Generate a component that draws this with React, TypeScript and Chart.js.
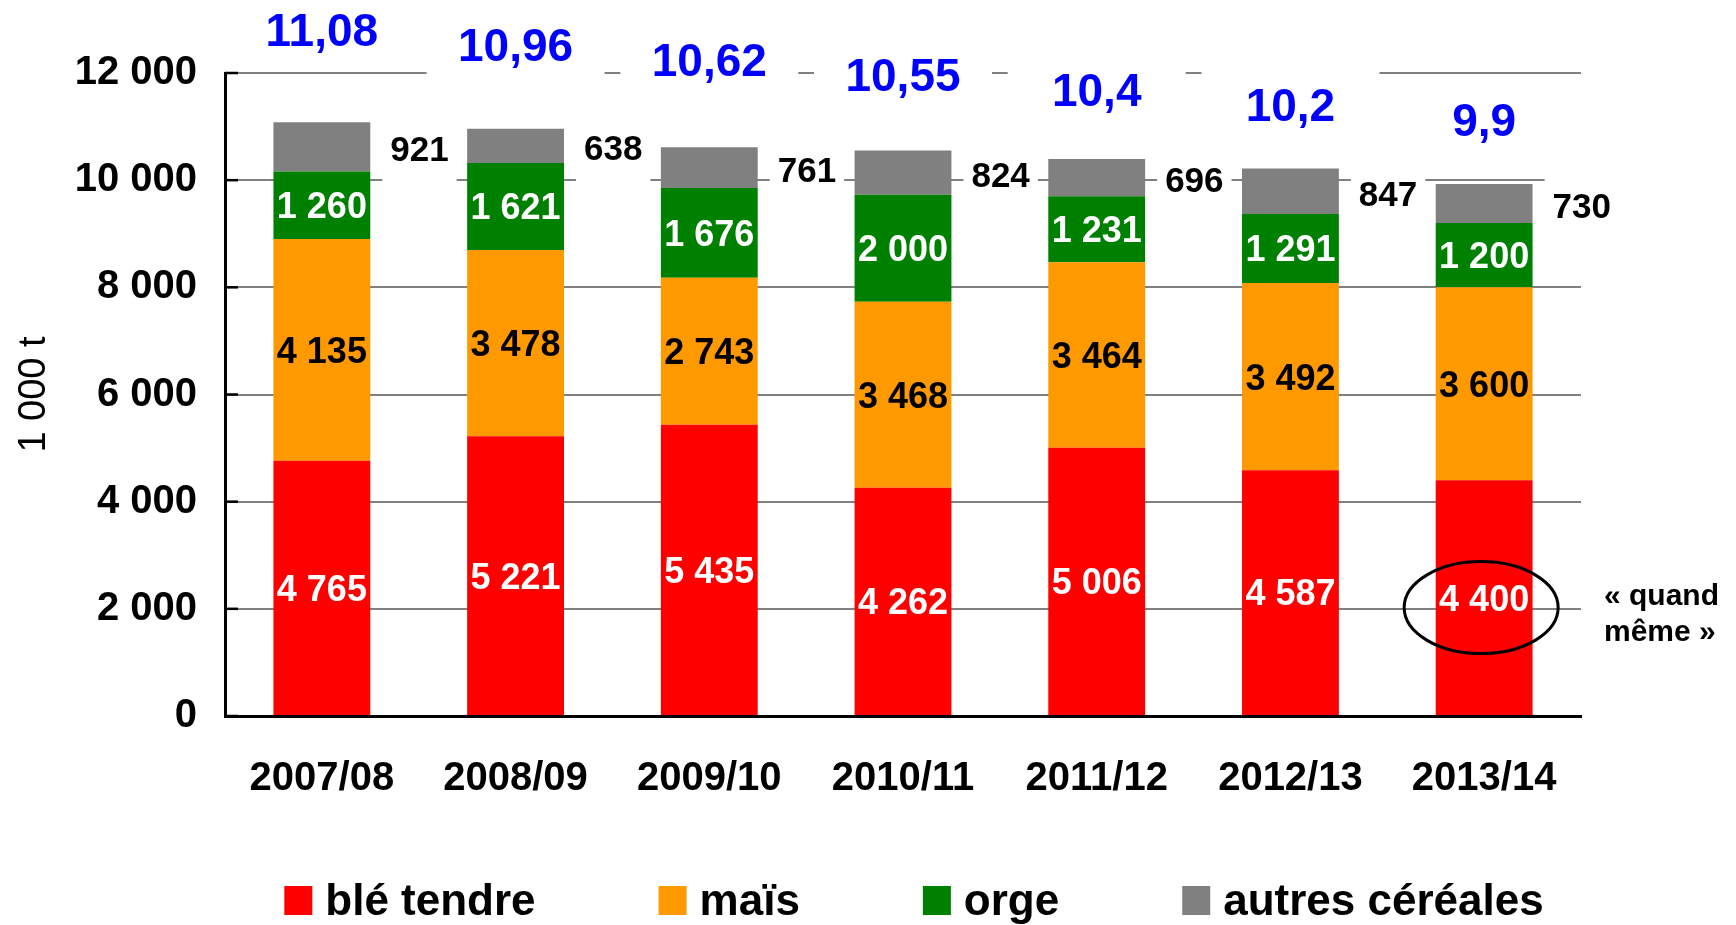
import { useEffect, useRef } from "react";
import { Chart, registerables } from "chart.js";

Chart.register(...registerables);

// ---------- data ----------
const categories = ["2007/08", "2008/09", "2009/10", "2010/11", "2011/12", "2012/13", "2013/14"];
const bleTendre = [4765, 5221, 5435, 4262, 5006, 4587, 4400];
const mais = [4135, 3478, 2743, 3468, 3464, 3492, 3600];
const orge = [1260, 1621, 1676, 2000, 1231, 1291, 1200];
const autres = [921, 638, 761, 824, 696, 847, 730];
const totalLabels = ["11,08", "10,96", "10,62", "10,55", "10,4", "10,2", "9,9"];
const seriesNames = ["blé tendre", "maïs", "orge", "autres céréales"];
const seriesColors = ["#FF0000", "#FF9900", "#008000", "#808080"];
const insideLabelColors = ["#FFFFFF", "#000000", "#FFFFFF"];
const yMin = 0;
const yMax = 12000;
const yStep = 2000;
const yTitle = "1 000 t";
const highlightIndex = 6;
const noteLines = ["« quand", "même »"];

const FONT = "'Liberation Sans', Arial, Helvetica, sans-serif";
Chart.defaults.font.family = FONT;

const fmt = (v: number) => String(v).replace(/\B(?=(\d{3})+(?!\d))/g, " ");

const overlayPlugin = {
  id: "overlay",
  beforeDatasetsDraw(chart: any) {
    const ctx = chart.ctx;
    const y = chart.scales.y;
    const left = chart.chartArea.left;
    ctx.save();
    ctx.strokeStyle = "#000";
    ctx.lineWidth = 2.5;
    y.ticks.forEach((t: any) => {
      const py = y.getPixelForValue(t.value);
      ctx.beginPath();
      ctx.moveTo(left, py);
      ctx.lineTo(left + 13, py);
      ctx.stroke();
    });
    ctx.restore();
  },
  afterDatasetsDraw(chart: any) {
    const ctx = chart.ctx;
    ctx.save();
    // labels inside segments
    ctx.font = `bold 36px ${FONT}`;
    ctx.textAlign = "center";
    ctx.textBaseline = "alphabetic";
    for (let d = 0; d < 3; d++) {
      const meta = chart.getDatasetMeta(d);
      ctx.fillStyle = insideLabelColors[d];
      meta.data.forEach((el: any, i: number) => {
        const cy = (el.y + el.base) / 2;
        ctx.fillText(fmt(chart.data.datasets[d].data[i] as number), el.x, cy + (36 * 0.716) / 2);
      });
    }
    // "autres" labels to the right of bars
    const metaA = chart.getDatasetMeta(3);
    ctx.font = `bold 35px ${FONT}`;
    ctx.textAlign = "left";
    const capA = 35 * 0.716;
    metaA.data.forEach((el: any, i: number) => {
      const text = fmt(autres[i]);
      const w = ctx.measureText(text).width;
      const x = el.x + el.width / 2 + 20;
      const cy = (el.y + el.base) / 2 + 2;
      ctx.fillStyle = "#fff";
      ctx.fillRect(x - 8, cy - capA / 2 - 21, w + 16, capA + 42);
      ctx.fillStyle = "#000";
      ctx.fillText(text, x, cy + capA / 2);
    });
    // totals (Mt) in blue, each in a fixed-width white text box
    ctx.font = `bold 46px ${FONT}`;
    ctx.textAlign = "center";
    const capT = 46 * 0.716;
    const boxW = 178;
    metaA.data.forEach((el: any, i: number) => {
      const text = totalLabels[i];
      const cy = chart.chartArea.top - 43 + 15 * i;
      ctx.fillStyle = "#fff";
      ctx.fillRect(el.x - boxW / 2, cy - capT / 2 - 18, boxW, capT + 36);
      ctx.fillStyle = "#0000FF";
      ctx.fillText(text, el.x, cy + capT / 2);
    });
    // ellipse around highlighted value
    const hl = chart.getDatasetMeta(0).data[highlightIndex];
    const ecy = (hl.y + hl.base) / 2 + 10;
    ctx.beginPath();
    ctx.ellipse(hl.x - 3, ecy, 77, 46, 0, 0, Math.PI * 2);
    ctx.lineWidth = 3;
    ctx.strokeStyle = "#000";
    ctx.stroke();
    // note
    ctx.font = `bold 30px ${FONT}`;
    ctx.textAlign = "left";
    ctx.fillStyle = "#000";
    ctx.fillText(noteLines[0], chart.chartArea.right + 23, ecy - 3);
    ctx.fillText(noteLines[1], chart.chartArea.right + 23, ecy + 33);
    ctx.restore();
  },
  afterDraw(chart: any) {
    // legend
    const ctx = chart.ctx;
    ctx.save();
    ctx.font = `bold 44px ${FONT}`;
    ctx.textAlign = "left";
    ctx.textBaseline = "alphabetic";
    const boxW = 28, boxH = 29, gapBT = 13, gapItems = 123;
    const items = chart.data.datasets.map((ds: any) => ({
      text: ds.label as string,
      color: ds.backgroundColor as string,
      w: ctx.measureText(ds.label).width,
    }));
    const total = items.reduce((s: number, it: any) => s + boxW + gapBT + it.w, 0) + gapItems * (items.length - 1);
    let x = 914 - total / 2;
    const baseline = 915;
    items.forEach((it: any) => {
      ctx.fillStyle = it.color;
      ctx.fillRect(x, baseline - boxH, boxW, boxH);
      ctx.fillStyle = "#000";
      ctx.fillText(it.text, x + boxW + gapBT, baseline);
      x += boxW + gapBT + it.w + gapItems;
    });
    ctx.restore();
  },
};

export default function App() {
  const ref = useRef<HTMLCanvasElement>(null);
  useEffect(() => {
    const seriesData = [bleTendre, mais, orge, autres];
    const chart = new Chart(ref.current!, {
      type: "bar",
      data: {
        labels: categories,
        datasets: seriesNames.map((name, k) => ({
          label: name,
          data: seriesData[k],
          backgroundColor: seriesColors[k],
          borderWidth: 0,
          barPercentage: 0.5,
          categoryPercentage: 1,
        })),
      },
      options: {
        responsive: false,
        animation: false,
        devicePixelRatio: 1,
        layout: { padding: { left: 12, top: 73, right: 155, bottom: 0 } },
        plugins: {
          legend: { display: false },
          tooltip: { enabled: false },
        },
        scales: {
          x: {
            stacked: true,
            grid: { display: false, drawTicks: false },
            border: { display: true, color: "#000", width: 3 },
            ticks: { color: "#000", font: { size: 40, weight: "bold" }, padding: 39, maxRotation: 0 },
            afterFit: (s: any) => {
              s.height = 209;
            },
          },
          y: {
            stacked: true,
            min: yMin,
            max: yMax,
            grid: { color: "#808080", lineWidth: 2, drawTicks: false },
            border: { display: true, color: "#000", width: 3 },
            ticks: {
              stepSize: yStep,
              color: "#000",
              font: { size: 40, weight: "bold" },
              padding: 28,
              callback: (v: any) => fmt(Number(v)),
            },
            title: {
              display: true,
              text: yTitle,
              color: "#000",
              font: { size: 38, weight: "normal" },
              padding: 0,
            },
            afterFit: (s: any) => {
              s.width = 213;
            },
          },
        },
      },
      plugins: [overlayPlugin],
    } as any);
    return () => chart.destroy();
  }, []);
  return (
    <div style={{ position: "fixed", left: 0, top: 0, width: 1736, height: 925, background: "#fff" }}>
      <canvas ref={ref} width={1736} height={925} style={{ display: "block", width: 1736, height: 925 }} />
    </div>
  );
}
